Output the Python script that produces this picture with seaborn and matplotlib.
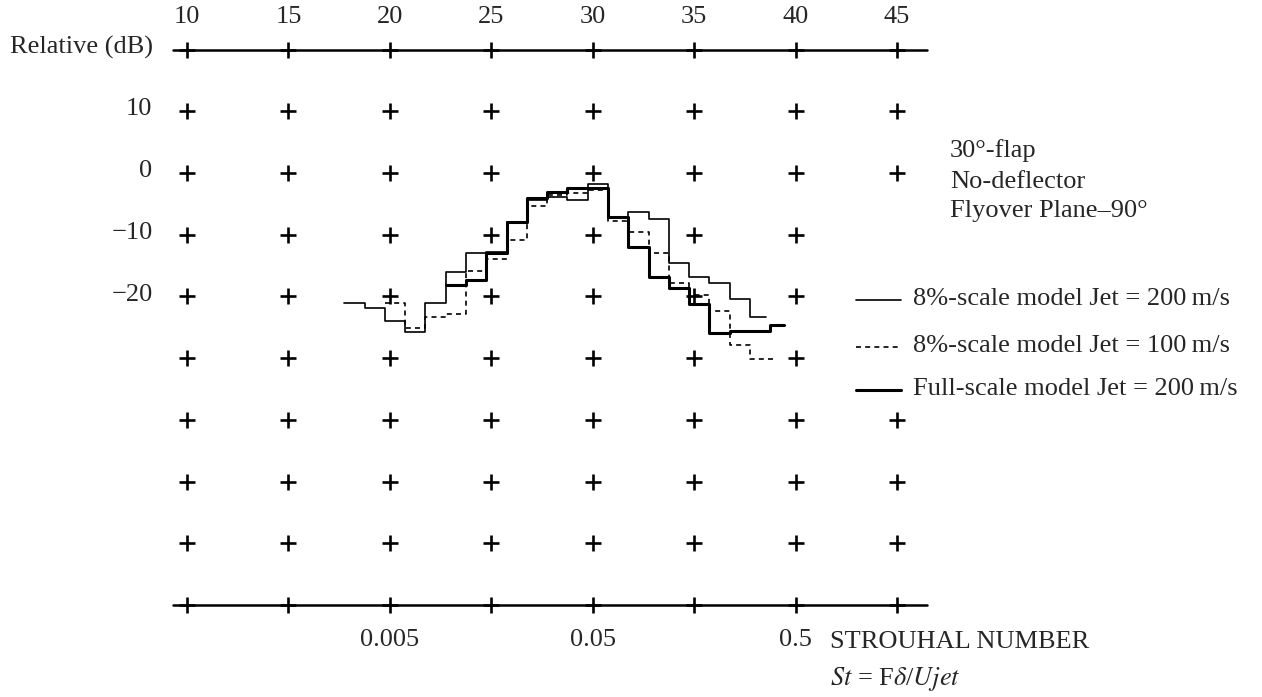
import numpy as np
import pandas as pd
import matplotlib
matplotlib.use("Agg")
import matplotlib.pyplot as plt
import seaborn as sns

# === Données (bandes de tiers d'octave, échelle du haut) ===

top_ticks = [10, 15, 20, 25, 30, 35, 40, 45]
grid_rows = [10, 0, -10, -20, -30, -40, -50, -60]
row_labels = ["10", "0", "\u221210", "\u221220"]
missing_marks = [(45, -10), (45, -20), (45, -30)]
strouhal_pos = [20, 30, 40]
strouhal_labels = ["0.005", "0.05", "0.5"]

# 8%-scale model, Jet = 200 m/s (thin solid)
bands_8_200 = list(range(18, 39))
db_8_200 = [-21.1, -21.8, -23.9, -25.7, -21.0, -16.1, -13.0, -12.8, -8.0, -4.3,
            -3.9, -4.4, -1.8, -7.3, -6.3, -7.5, -14.5, -16.8, -17.9, -20.4, -23.3]
end_8_200 = 38.55

# 8%-scale model, Jet = 100 m/s (dashed)
bands_8_100 = list(range(20, 39))
db_8_100 = [-21.1, -25.1, -23.4, -22.8, -15.8, -14.0, -10.9, -5.3, -3.6, -3.3,
            -2.8, -7.8, -9.5, -13.0, -17.8, -19.7, -22.3, -27.8, -30.1]
end_8_100 = 39.0

# Full-scale model, Jet = 200 m/s (thick solid)
bands_full = list(range(23, 40))
db_full = [-18.2, -17.4, -12.9, -8.0, -4.1, -3.1, -2.4, -2.4, -7.2, -12.0,
           -16.9, -18.7, -21.3, -25.9, -25.6, -25.6, -24.7]
end_full = 39.45

band_offset = 0.25  # bord gauche de chaque bande


def step_frame(bands, levels, end):
    x = [b - band_offset for b in bands] + [end]
    y = list(levels) + [levels[-1]]
    return pd.DataFrame({"band": x, "db": y})


sns.set_theme(style="white")
plt.rcParams["font.family"] = ["Liberation Serif", "DejaVu Serif"]
plt.rcParams["mathtext.fontset"] = "stix"

fig = plt.figure(figsize=(12.62, 6.97), dpi=100)
ax = fig.add_axes([0.1482, 0.1320, 0.5626, 0.7968])
ax.set_xlim(10, 45)
ax.set_ylim(-70, 20)
ax.axis("off")

# grille de croix
pts = [(x, y) for y in [20] + grid_rows + [-70] for x in top_ticks
       if (x, y) not in missing_marks]
grid_df = pd.DataFrame(pts, columns=["band", "db"])
sns.scatterplot(data=grid_df, x="band", y="db", marker="+", s=130,
                color="black", linewidth=1.9, ax=ax, clip_on=False, zorder=3)

# lignes du haut et du bas
for yl in [20, -70]:
    ax.plot([9.3, 46.5], [yl, yl], color="black", lw=1.8, clip_on=False)

# courbes en escalier
sns.lineplot(data=step_frame(bands_8_200, db_8_200, end_8_200), x="band", y="db",
             estimator=None, sort=False, drawstyle="steps-post",
             color="black", lw=1.2, ax=ax)
sns.lineplot(data=step_frame(bands_8_100, db_8_100, end_8_100), x="band", y="db",
             estimator=None, sort=False, drawstyle="steps-post",
             color="black", lw=1.2, linestyle=(0, (3, 2.5)), ax=ax)
sns.lineplot(data=step_frame(bands_full, db_full, end_full), x="band", y="db",
             estimator=None, sort=False, drawstyle="steps-post",
             color="black", lw=2.2, ax=ax)
ax.set_xlabel("")
ax.set_ylabel("")

fs = 19
# étiquettes du haut
for t in top_ticks:
    ax.text(t, 25.3, str(t), ha="center", va="center", fontsize=fs, clip_on=False)
ax.text(8.3, 20.3, "Relative (dB)", ha="right", va="center", fontsize=fs)
for y, lab in zip(grid_rows[:4], row_labels):
    ax.text(8.3, y + 0.3, lab, ha="right", va="center", fontsize=fs)

# annotation à droite
for y, s in zip([3.6, -1.4, -6.1], ["30\u00b0-flap", "No-deflector", "Flyover Plane\u201390\u00b0"]):
    ax.text(47.6, y, s, ha="left", va="center", fontsize=fs, clip_on=False)

# légende manuelle
leg = [("8%-scale model Jet = 200\u2009m/s", 1.2, "-", -20.6, -20.4),
       ("8%-scale model Jet = 100\u2009m/s", 1.2, (0, (3, 2.5)), -28.2, -28.0),
       ("Full-scale model Jet = 200\u2009m/s", 2.2, "-", -35.2, -35.0)]
for s, lw, ls, y, ty in leg:
    ax.plot([43.0, 45.2], [y, y], color="black", lw=lw, linestyle=ls, clip_on=False)
    ax.text(45.8, ty, s, ha="left", va="center", fontsize=fs, clip_on=False)

# axe de Strouhal en bas
for p, lab in zip(strouhal_pos, strouhal_labels):
    ax.text(p, -75.6, lab, ha="center", va="center", fontsize=fs, clip_on=False)
ax.text(41.7, -76.0, "STROUHAL NUMBER", ha="left", va="center", fontsize=fs, clip_on=False)
ax.text(41.7, -82.0, r"$\mathbf{\mathit{St}}$ = F$\delta$/$\mathit{Ujet}$", ha="left",
        va="center", fontsize=fs, clip_on=False)

fig.savefig("out.png", dpi=100)
